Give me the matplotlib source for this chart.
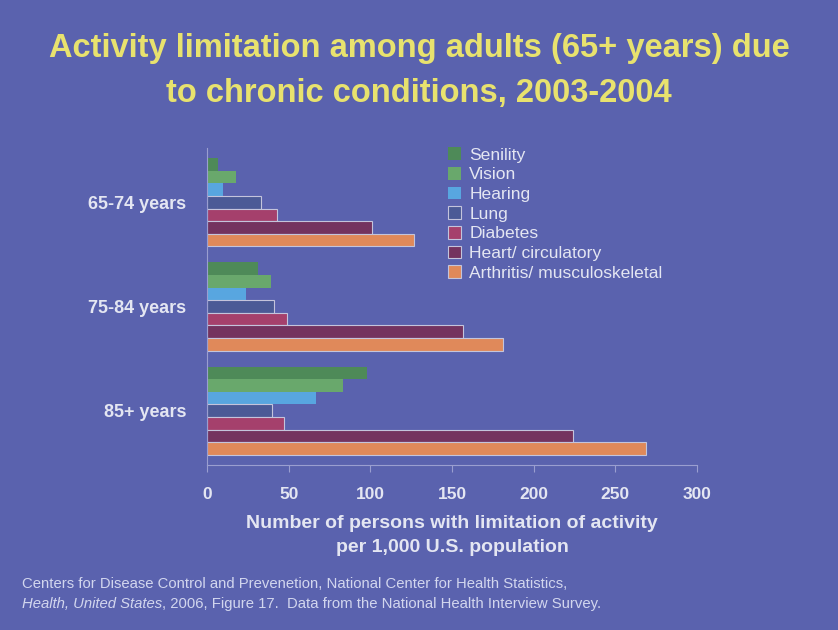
import matplotlib.pyplot as plt
import numpy as np

plt.rcParams['font.family'] = ['Liberation Sans', 'DejaVu Sans']

age_groups = ["65-74 years", "75-84 years", "85+ years"]
conditions = ["Senility", "Vision", "Hearing", "Lung", "Diabetes",
              "Heart/ circulatory", "Arthritis/ musculoskeletal"]
# rate per 1,000 population, one list per condition (65-74, 75-84, 85+)
senility = [7, 31, 98]
vision = [18, 39, 83]
hearing = [10, 24, 67]
lung = [33, 41, 40]
diabetes = [43, 49, 47]
heart = [101, 157, 224]
arthritis = [127, 181, 269]
x_ticks = [0, 50, 100, 150, 200, 250, 300]

series = [senility, vision, hearing, lung, diabetes, heart, arthritis]
colors = ["#4e8a58", "#69a86c", "#58a6e0", "#4b5a96", "#a5406c", "#74335f", "#e0895a"]
outlined = [False, False, False, True, True, True, True]

bg = "#5a62ae"
text_c = "#e4e6f2"

fig = plt.figure(figsize=(8.38, 6.3), dpi=100, facecolor=bg)
ax = fig.add_axes([207 / 838, 1 - 465 / 630, 490 / 838, 317 / 630], facecolor=bg)

pos = np.array([2, 1, 0])
h = 0.121
for i, (vals, c, edge) in enumerate(zip(series, colors, outlined)):
    y = pos + (3 - i) * h
    ax.barh(y, vals, height=h, color=c, label=conditions[i],
            edgecolor="#c4c4dc" if edge else c, linewidth=0.8 if edge else 0)

ax.set_xlim(0, 300)
ax.set_ylim(-0.52, 2.52)
ax.set_xticks(x_ticks)
ax.set_xticklabels([str(t) for t in x_ticks], fontsize=12.5, fontweight="bold", color=text_c)
ax.set_yticks(pos)
ax.set_yticklabels(age_groups, fontsize=13, fontweight="bold", color=text_c)
ax.tick_params(axis="x", length=5, color="#9a9ed0", pad=11)
ax.tick_params(axis="y", length=0, pad=15)
for side in ["top", "right"]:
    ax.spines[side].set_visible(False)
for side in ["left", "bottom"]:
    ax.spines[side].set_color("#9a9ed0")
    ax.spines[side].set_linewidth(0.8)

ax.set_xlabel("Number of persons with limitation of activity\nper 1,000 U.S. population",
              fontsize=14, fontweight="bold", color=text_c, labelpad=9, linespacing=1.55)

leg = ax.legend(loc="upper left", bbox_to_anchor=(0.478, 1.025), frameon=False,
                fontsize=12.6, labelcolor=text_c, handlelength=0.75, handleheight=0.75,
                handletextpad=0.45, labelspacing=0.24, borderaxespad=0)

fig.text(0.5, 1 - 71 / 630, "Activity limitation among adults (65+ years) due\nto chronic conditions, 2003-2004",
         ha="center", va="center", fontsize=23.5, fontweight="bold", color="#e8e26e",
         linespacing=1.58)

foot_c = "#d2d6ee"
fig.text(22 / 838, 1 - 584 / 630,
         "Centers for Disease Control and Prevenetion, National Center for Health Statistics,",
         fontsize=10.7, color=foot_c, va="center")
t1 = fig.text(22 / 838, 1 - 604 / 630, "Health, United States", fontsize=10.7, color=foot_c,
              va="center", style="italic")
fig.canvas.draw()
bb = t1.get_window_extent()
fig.text(bb.x1 / fig.bbox.width, 1 - 604 / 630,
         ", 2006, Figure 17.  Data from the National Health Interview Survey.",
         fontsize=10.7, color=foot_c, va="center")

fig.savefig("out.png", dpi=100, facecolor=bg)
